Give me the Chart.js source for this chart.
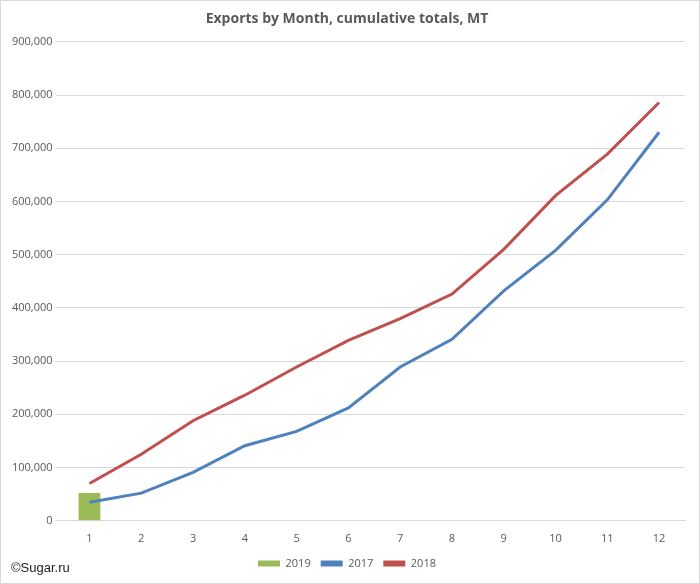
<!DOCTYPE html>
<html><head><meta charset="utf-8">
<script src="https://cdn.jsdelivr.net/npm/chart.js@4"></script>
<style>
html,body{margin:0;padding:0;background:#fff;}
#wrap{position:relative;width:698px;height:582px;border:1px solid #d9d9d9;}
#credit{position:absolute;left:10px;bottom:8px;font:13px "Liberation Sans",Arial,sans-serif;color:#222;}
</style></head><body>
<div id="wrap"><canvas id="c" width="698" height="582"></canvas><div id="credit">©Sugar.ru</div></div>
<script>
const months = ['1','2','3','4','5','6','7','8','9','10','11','12'];
const s2019 = [52000];
const s2017 = [35000,52000,91000,141000,168000,212000,289000,341000,432000,508000,603000,730000];
const s2018 = [70000,125000,188000,236000,289000,339000,380000,426000,510000,611000,689000,786000];
const font = {family:'"Open Sans","Liberation Sans",sans-serif'};
new Chart(document.getElementById('c'),{
 data:{labels:months,datasets:[
  {type:'bar',label:'2019',data:s2019,backgroundColor:'#9bbb59',barPercentage:0.42,categoryPercentage:1,order:2},
  {type:'line',label:'2017',data:s2017,borderColor:'#4f81bd',backgroundColor:'#4f81bd',borderWidth:3,pointRadius:0,tension:0,order:1},
  {type:'line',label:'2018',data:s2018,borderColor:'#c0504d',backgroundColor:'#c0504d',borderWidth:3,pointRadius:0,tension:0,order:0}
 ]},
 options:{responsive:false,animation:false,
  layout:{padding:{left:8,right:14,top:6,bottom:4}},
  plugins:{
   title:{display:true,text:'Exports by Month, cumulative totals, MT',color:'#595959',font:{...font,size:14,weight:'bold'},padding:{top:4,bottom:14}},
   legend:{position:'bottom',labels:{color:'#595959',font:{...font,size:11},boxWidth:22,boxHeight:6,
    generateLabels(ch){return ch.data.datasets.map((d,i)=>({text:d.label,fillStyle:d.backgroundColor,strokeStyle:d.backgroundColor,lineWidth:0,fontColor:'#595959',datasetIndex:i}));}}},
   tooltip:{enabled:false}},
  scales:{
   x:{grid:{display:false},border:{color:'#d9d9d9'},ticks:{color:'#595959',font:{...font,size:11}}},
   y:{min:0,max:900000,ticks:{stepSize:100000,color:'#595959',font:{...font,size:11}},grid:{color:'#d9d9d9'},border:{display:false}}
  }}
});
</script></body></html>
